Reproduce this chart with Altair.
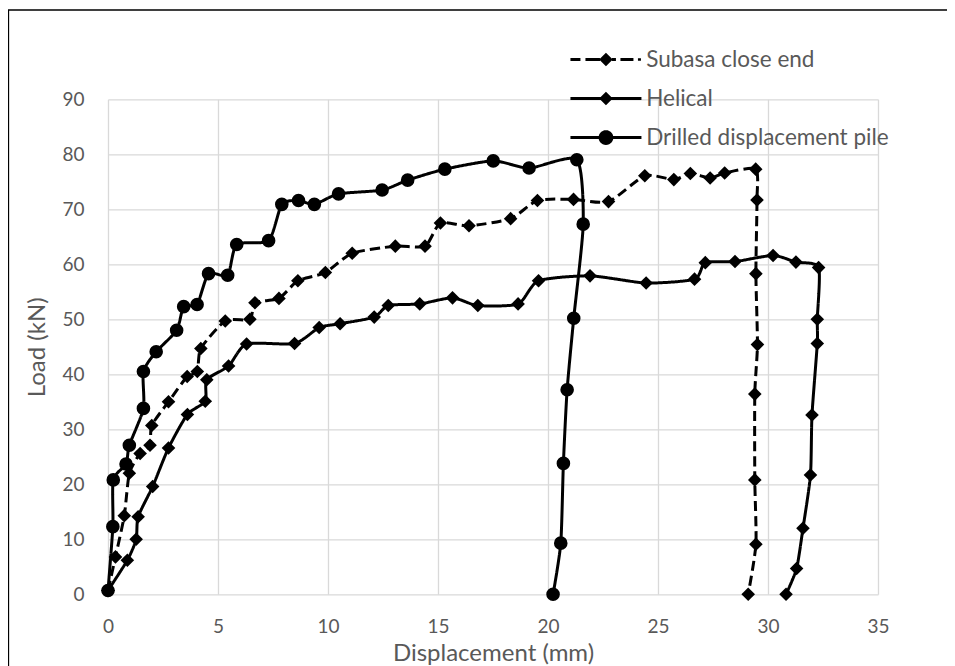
import math
import altair as alt
import pandas as pd

series_names = ["Subasa close end", "Helical", "Drilled displacement pile"]

subasa_x = [0, 0.34, 0.74, 0.97, 1.46, 1.91, 1.99, 2.75, 3.6, 4.06, 4.22, 5.33, 6.45, 6.68, 7.77, 8.63,
            9.88, 11.1, 13.06, 14.41, 15.11, 16.41, 18.3, 19.52, 21.16, 22.75, 24.4, 25.72, 26.47,
            27.37, 28.03, 29.44, 29.5, 29.45, 29.52, 29.4, 29.4, 29.45, 29.1]
subasa_y = [0.7, 6.8, 14.3, 22.0, 25.6, 27.1, 30.7, 35.0, 39.6, 40.5, 44.7, 49.7, 50.0, 53.0, 53.8, 57.0,
            58.5, 62.0, 63.3, 63.3, 67.5, 67.0, 68.3, 71.6, 71.8, 71.4, 76.1, 75.4, 76.5,
            75.7, 76.6, 77.3, 71.7, 58.3, 45.4, 36.4, 20.8, 9.1, 0]

helical_x = [0, 0.88, 1.28, 1.37, 2.03, 2.75, 3.61, 4.42, 4.49, 5.48, 6.3, 8.48, 9.6, 10.55, 12.1, 12.74,
             14.17, 15.66, 16.81, 18.64, 19.57, 21.91, 24.46, 26.66, 27.15, 28.5, 30.23, 31.27, 32.3,
             32.24, 32.24, 32.0, 31.93, 31.59, 31.3, 30.82]
helical_y = [0.7, 6.2, 10.0, 14.1, 19.6, 26.6, 32.7, 35.1, 39.0, 41.5, 45.5, 45.6, 48.5, 49.2, 50.4, 52.5,
             52.8, 53.9, 52.5, 52.8, 57.0, 57.9, 56.6, 57.3, 60.3, 60.5, 61.6, 60.4, 59.4,
             50.0, 45.6, 32.6, 21.7, 12.0, 4.7, 0]

drilled_x = [0, 0.22, 0.24, 0.82, 0.97, 1.61, 1.61, 2.19, 3.12, 3.44, 4.05, 4.57, 5.44, 5.85, 7.3, 7.9,
             8.66, 9.38, 10.48, 12.46, 13.62, 15.31, 17.51, 19.14, 21.31, 21.6, 21.17, 20.87, 20.7,
             20.58, 20.23]
drilled_y = [0.7, 12.3, 20.8, 23.7, 27.1, 33.8, 40.5, 44.1, 48.0, 52.3, 52.7, 58.3, 58.0, 63.6, 64.3, 70.9,
             71.6, 70.9, 72.8, 73.5, 75.3, 77.3, 78.8, 77.5, 79.0, 67.3, 50.2, 37.2, 23.8,
             9.3, 0]

x_ticks = [0, 5, 10, 15, 20, 25, 30, 35]
y_ticks = [0, 10, 20, 30, 40, 50, 60, 70, 80, 90]

rows = []
for name, xs, ys in [(series_names[0], subasa_x, subasa_y),
                     (series_names[1], helical_x, helical_y),
                     (series_names[2], drilled_x, drilled_y)]:
    for i, (xv, yv) in enumerate(zip(xs, ys)):
        rows.append({"series": name, "idx": i, "disp": xv, "load": yv})
df = pd.DataFrame(rows)

FONT = "Lato"
GRAY = "#595959"
W, H = 770, 495

x_enc = alt.X("disp:Q", scale=alt.Scale(domain=[0, 35], nice=False),
              axis=alt.Axis(values=x_ticks, title="Displacement (mm)", labelPadding=23, labelFlush=False,
                            titleX=W / 2, titleY=59, titleBaseline="middle"))
y_enc = alt.Y("load:Q", scale=alt.Scale(domain=[0, 90], nice=False),
              axis=alt.Axis(values=y_ticks, title="Load (kN)", labelPadding=24, labelFlush=False,
                            titleX=-70.5, titleY=H / 2, titleBaseline="middle", titleAngle=270))

lines = alt.Chart(df).mark_line(interpolate="cardinal", tension=0.35, strokeWidth=3, color="black").encode(
    x=x_enc, y=y_enc, order="idx:Q", detail="series:N",
    strokeDash=alt.StrokeDash("series:N", scale=alt.Scale(domain=series_names,
                                                          range=[[10, 5], [1, 0], [1, 0]]), legend=None),
)

points = alt.Chart(df).mark_point(filled=True, color="black", opacity=1).encode(
    x=x_enc, y=y_enc,
    shape=alt.Shape("series:N", scale=alt.Scale(domain=series_names, range=["diamond", "diamond", "circle"]),
                    legend=None),
    size=alt.Size("series:N", scale=alt.Scale(domain=series_names, range=[185, 185, 195]), legend=None),
)


# legend symbols: filled line segments + marker in one custom path (units of 10 px)
def seg(a, b, t=0.15):
    return f"M{a},{-t}L{b},{-t}L{b},{t}L{a},{t}Z"


diamond = "M0,-0.68L0.68,0L0,0.68L-0.68,0Z"
circle = "M" + "L".join(f"{0.74*math.cos(2*math.pi*k/28):.3f},{0.74*math.sin(2*math.pi*k/28):.3f}"
                        for k in range(28)) + "Z"
dashed_line = (seg(-3.55, -2.55) + seg(-2.05, -0.6) + seg(0.6, 1.0) + seg(1.45, 2.75)
               + seg(3.2, 3.5, 0.12))
solid_line = seg(-3.55, 3.55)
legend_paths = [dashed_line + diamond, solid_line + diamond, solid_line + circle]

legend_df = pd.DataFrame({"series": series_names})
legend_layer = alt.Chart(legend_df).mark_point(filled=True, color="black", opacity=1).encode(
    shape=alt.Shape("series:N", scale=alt.Scale(domain=series_names, range=legend_paths),
                    legend=alt.Legend(title=None, orient="none", legendX=486.7, legendY=-51,
                                      symbolSize=400, symbolStrokeWidth=0,
                                      symbolFillColor="black", symbolOpacity=1, symbolOffset=0,
                                      labelFont=FONT, labelFontSize=22.5, labelColor=GRAY, labelLimit=0,
                                      labelOffset=29, rowPadding=16, padding=0)),
).transform_filter("datum.series == 'none'")

frame = alt.Chart(pd.DataFrame({"a": [0]})).mark_rect(fillOpacity=0, stroke="black", strokeWidth=1.3).encode(
    x=alt.value(-99.5), x2=alt.value(950), y=alt.value(-89.3), y2=alt.value(700)
)

chart = alt.layer(frame, lines, points, legend_layer).resolve_scale(
    shape="independent"
).properties(
    width=W, height=H, autosize="none",
    padding={"left": 100, "top": 91.3, "right": 69, "bottom": 71.7},
    background="white",
).configure_axis(
    grid=True, gridColor="#d9d9d9", gridWidth=1.3, domain=False, ticks=False, tickSize=0,
    labelFont=FONT, labelFontSize=19, labelColor=GRAY,
    titleFont=FONT, titleFontSize=24, titleColor=GRAY, titleFontWeight="normal",
).configure_view(stroke=None)

chart.save("out.html", embed_options={"renderer": "svg", "actions": False})
